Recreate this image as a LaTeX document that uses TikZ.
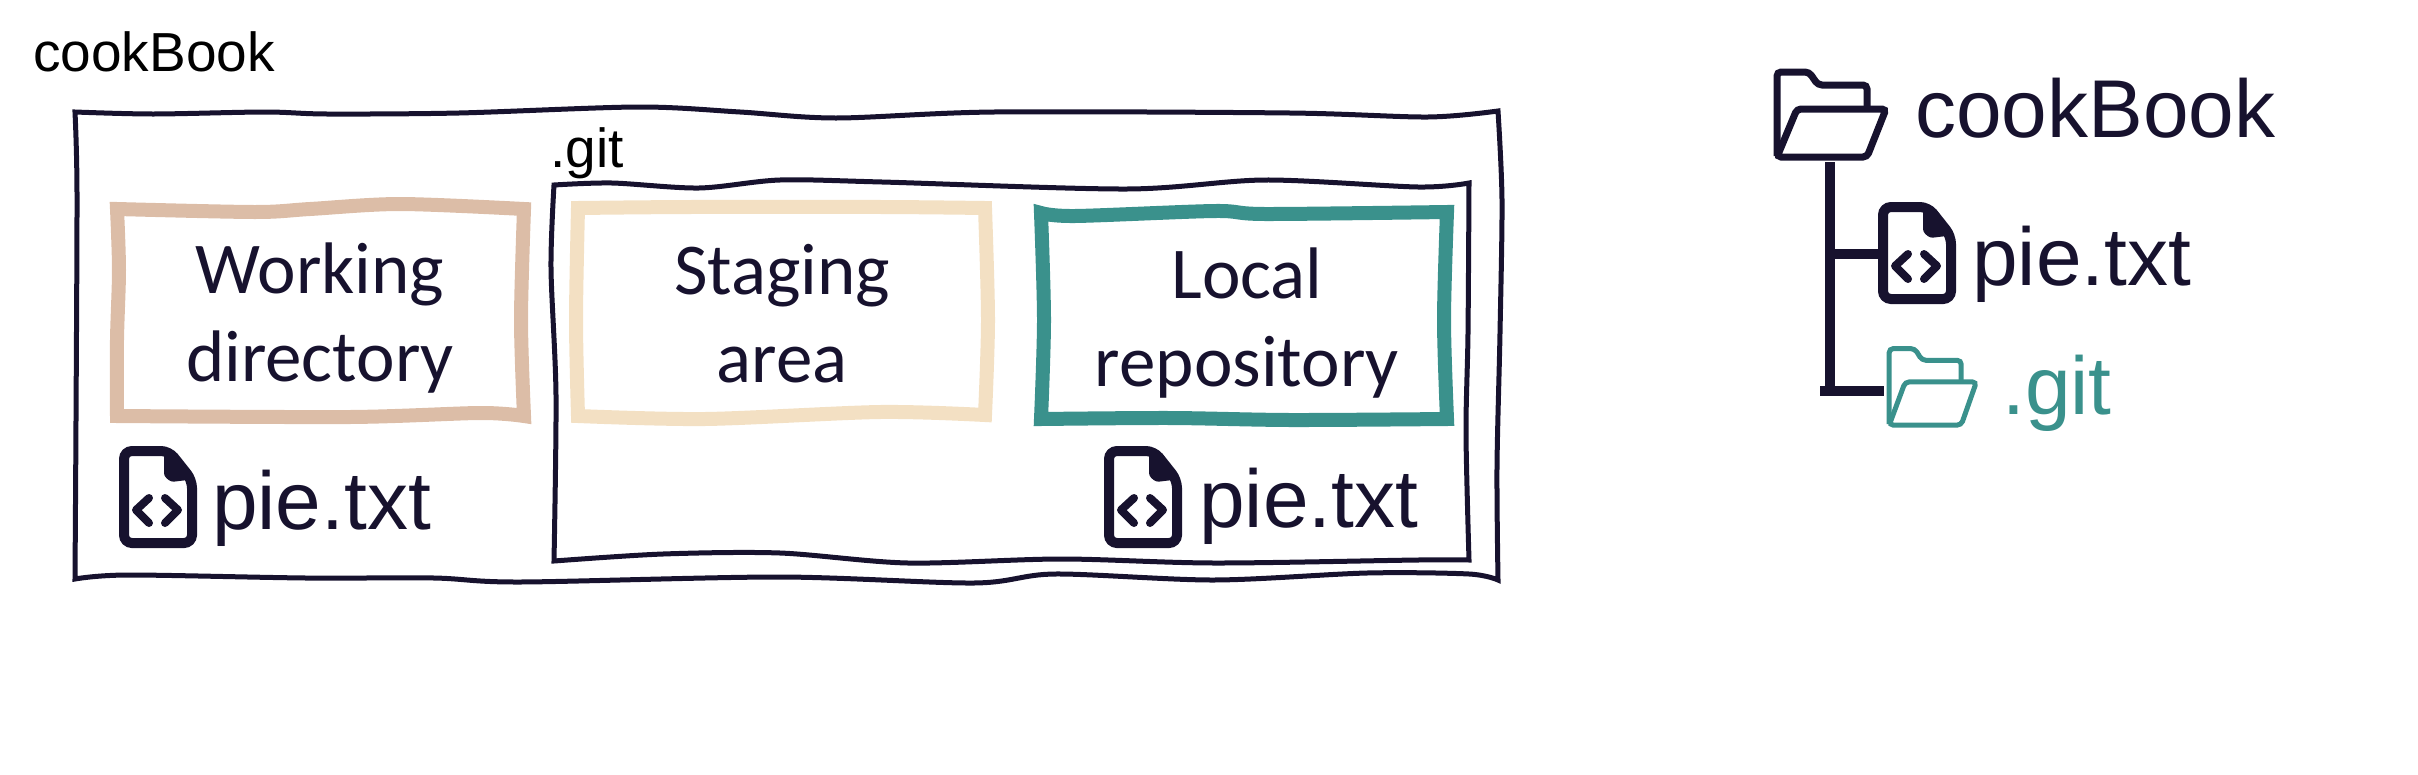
\documentclass[tikz,border=0pt]{standalone}
\usepackage{fontspec}
\setmainfont{Liberation Sans}
\newfontfamily\carlito{Carlito}
\usepackage{xcolor}
\definecolor{inkdark}{HTML}{17122E}
\definecolor{worktan}{HTML}{DCBDA7}
\definecolor{stagecream}{HTML}{F3E0C3}
\definecolor{repoteal}{HTML}{3A918C}

\tikzset{
    sketchbox/.style={draw=inkdark, line width=5pt, line join=miter},
    areabox/.style={line width=14pt, line join=miter},
    smalllabel/.style={anchor=base west, inner sep=0pt, text=black, font=\fontsize{55}{60}\selectfont},
    biglabel/.style={anchor=base west, inner sep=0pt, text=inkdark, font=\fontsize{82}{90}\selectfont},
    arealabel/.style={inner sep=0pt, align=center, text=inkdark},
    pics/fileicon/.style={code={
        \draw[inkdark, line width=10pt, rounded corners=8pt] (5,50) -- (5,5) -- (50,5) -- (73,34) -- (73,97) -- (5,97) -- cycle;
        \fill[inkdark, rounded corners=3pt] (45,4) -- (52,3) -- (77,33) -- (52,36) -- (45,30) -- cycle;
        \draw[inkdark, line width=8pt, line cap=round, line join=round] (30,52) -- (17,64) -- (30,77);
        \draw[inkdark, line width=8pt, line cap=round, line join=round] (46,52) -- (59,64) -- (46,77);
    }},
    pics/foldericon/.style={code={
        \draw[rounded corners=4pt, pic actions] (4,88) -- (4,4) -- (36,4) -- (45,17) -- (94,17) -- (94,40);
        \draw[rounded corners=4pt, pic actions] (4,89) -- (24,41) -- (113,41) -- (94,89) -- cycle;
    }}
}

\begin{document}
\begin{tikzpicture}[x=1pt, y=-1pt]
    \useasboundingbox (0,0) rectangle (2418,774);

    % Outer box and .git box
    \draw[sketchbox] plot[smooth] coordinates {(75,112) (153,114) (265,112) (327,114) (459,113) (638,107) (740,112) (836,118) (994,112) (1290,113) (1428,117) (1498,111)}
        -- plot[smooth] coordinates {(1498,111) (1502,200) (1500,333) (1497,467) (1498,580)}
        -- plot[smooth] coordinates {(1498,580) (1469,574) (1367,573) (1214,580) (1055,574) (974,583) (780,577) (520,582) (434,578) (306,578) (128,575) (75,579)}
        -- plot[smooth] coordinates {(75,579) (76,421) (77,192) (75,112)} -- cycle;
    \draw[sketchbox] plot[smooth] coordinates {(554,185) (612,183) (699,188) (780,180) (882,182) (1127,189) (1265,180) (1418,187) (1469,183)}
        -- plot[smooth] coordinates {(1469,183) (1468,333) (1466,433) (1469,560)}
        -- plot[smooth] coordinates {(1469,560) (1418,560) (1214,563) (1061,559) (908,563) (780,553) (663,554) (554,561)}
        -- plot[smooth] coordinates {(554,561) (556,395) (551,268) (554,185)} -- cycle;

    % Coloured areas
    \draw[areabox, draw=worktan] plot[smooth] coordinates {(117,209) (255,212) (310,209) (400,204) (524,209)}
        -- plot[smooth] coordinates {(524,209) (521,320) (524,416)}
        -- plot[smooth] coordinates {(524,416) (480,413) (350,417) (117,416)}
        -- plot[smooth] coordinates {(117,416) (117,340) (119,270) (117,209)} -- cycle;
    \draw[areabox, draw=stagecream] plot[smooth] coordinates {(578,208) (690,207) (882,207) (985,208)}
        -- plot[smooth] coordinates {(985,208) (988,320) (985,415)}
        -- plot[smooth] coordinates {(985,415) (880,412) (705,419) (578,416)}
        -- plot[smooth] coordinates {(578,416) (576,320) (578,208)} -- cycle;
    \draw[areabox, draw=repoteal] plot[smooth] coordinates {(1041,213) (1075,216) (1215,211) (1265,214) (1447,212)}
        -- plot[smooth] coordinates {(1447,212) (1444,320) (1447,419)}
        -- plot[smooth] coordinates {(1447,419) (1290,420) (1170,418) (1041,419)}
        -- plot[smooth] coordinates {(1041,419) (1044,320) (1041,213)} -- cycle;

    % Texts
    \node[smalllabel] (outerlabel) at (33,71) {cookBook};
    \node[smalllabel] (gitlabel) at (550,167) {.git};
    \node[arealabel, font=\carlito\fontsize{73}{88}\selectfont] (working) at (320,318) {Working\\directory};
    \node[arealabel, font=\carlito\fontsize{73}{88}\selectfont] (staging) at (782,314) {Staging\\area};
    \node[arealabel, font=\carlito\fontsize{73}{88}\selectfont] (local) at (1247,323) {Local\\repository};
    \node[biglabel] (workfile) at (212,529) {pie.txt};
    \node[biglabel] (repofile) at (1199,527) {pie.txt};
    \node[biglabel] (rootname) at (1915,137) {cookBook};
    \node[biglabel] (treefile) at (1972,285) {pie.txt};
    \node[biglabel, text=repoteal] (treegit) at (2002,414) {.git};

    % Icons
    \pic at (119,446) {fileicon};
    \pic at (1104,446) {fileicon};
    \pic at (1878,202) {fileicon};
    \pic[draw=inkdark, line width=7pt] at (1773,68) {foldericon};
    \pic[draw=repoteal, line width=5pt, xscale=.8, yscale=.9] at (1886,345) {foldericon};

    % Tree
    \coordinate (rootfolder) at (1830,162);
    \coordinate (filejoin) at (1878,254);
    \coordinate (gitjoin) at (1884,391);
    \coordinate (gitfork) at (1820,391);
    \draw[inkdark, line width=10pt] (rootfolder) -- (rootfolder |- gitfork);
    \draw[inkdark, line width=10pt] (rootfolder |- filejoin) -- (filejoin);
    \draw[inkdark, line width=10pt] (gitfork) -- (gitjoin);
\end{tikzpicture}
\end{document}
